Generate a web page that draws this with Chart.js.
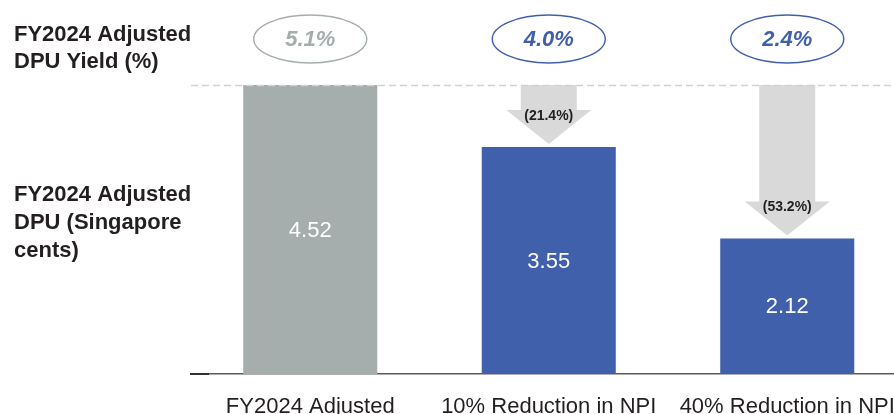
<!DOCTYPE html>
<html>
<head>
<meta charset="utf-8">
<script src="https://cdn.jsdelivr.net/npm/chart.js@4.4.1/dist/chart.umd.min.js"></script>
<style>
  html, body { margin: 0; padding: 0; background: #ffffff; overflow: hidden; }
  #wrap { position: relative; width: 894px; height: 414px; overflow: hidden; }
  canvas { display: block; }
</style>
</head>
<body>
<div id="wrap"><canvas id="c" width="920" height="440"></canvas></div>
<script>
// Scenario categories along the x axis
const categories = ['FY2024 Adjusted', '10% Reduction in NPI', '40% Reduction in NPI'];
// Adjusted DPU per scenario (Singapore cents)
const dpu = [4.52, 3.55, 2.12];
// Adjusted DPU yield per scenario (%)
const dpuYield = [5.1, 4.0, 2.4];
// Change in DPU versus FY2024 adjusted (%)
const dpuChange = [null, -21.4, -53.2];
// Row headings on the left
const yieldHeading = ['FY2024 Adjusted', 'DPU Yield (%)'];
const dpuHeading = ['FY2024 Adjusted', 'DPU (Singapore', 'cents)'];

const FONT = "'Liberation Sans', Arial, Helvetica, sans-serif";
const GREY = '#a5adad';
const BLUE = '#4160ac';
const INK = '#231f20';

Chart.defaults.font.family = FONT;

const overlay = {
  id: 'dpuOverlay',
  afterDatasetsDraw(chart) {
    const { ctx, chartArea, scales: { y } } = chart;
    const bars = chart.getDatasetMeta(0).data;
    const baseY = y.getPixelForValue(dpu[0]);
    ctx.save();

    // value inside each bar
    ctx.fillStyle = '#ffffff';
    ctx.font = `22px ${FONT}`;
    ctx.textAlign = 'center';
    ctx.textBaseline = 'middle';
    bars.forEach((bar, i) => {
      ctx.fillText(dpu[i].toFixed(2), bar.x, (bar.y + bar.base) / 2 + 1);
    });

    // down arrows from the FY2024 level to each scenario bar
    dpuChange.forEach((chg, i) => {
      if (chg == null) return;
      const bar = bars[i];
      const tip = bar.y - 3;
      const headTop = tip - 34;
      const shaftHalf = 28, headHalf = 42.5;
      ctx.fillStyle = '#d9d9d9';
      ctx.beginPath();
      ctx.moveTo(bar.x - shaftHalf, baseY);
      ctx.lineTo(bar.x + shaftHalf, baseY);
      ctx.lineTo(bar.x + shaftHalf, headTop);
      ctx.lineTo(bar.x + headHalf, headTop);
      ctx.lineTo(bar.x, tip);
      ctx.lineTo(bar.x - headHalf, headTop);
      ctx.lineTo(bar.x - shaftHalf, headTop);
      ctx.closePath();
      ctx.fill();
      ctx.fillStyle = INK;
      ctx.font = `bold 14px ${FONT}`;
      ctx.textAlign = 'center';
      ctx.textBaseline = 'middle';
      ctx.fillText(`(${Math.abs(chg).toFixed(1)}%)`, bar.x, headTop + 6);
    });

    // dashed reference line at the FY2024 level
    ctx.strokeStyle = '#d2d2d2';
    ctx.lineWidth = 1.3;
    ctx.setLineDash([7, 4]);
    ctx.beginPath();
    ctx.moveTo(chartArea.left, baseY + 0.5);
    ctx.lineTo(chart.width, baseY + 0.5);
    ctx.stroke();
    ctx.setLineDash([]);

    // short dark stub at the left of the baseline
    ctx.strokeStyle = '#333333';
    ctx.lineWidth = 2;
    ctx.beginPath();
    ctx.moveTo(chartArea.left - 1, chartArea.bottom);
    ctx.lineTo(chartArea.left + 18, chartArea.bottom);
    ctx.stroke();

    // yield ovals above each bar
    bars.forEach((bar, i) => {
      const col = i === 0 ? GREY : BLUE;
      ctx.strokeStyle = col;
      ctx.lineWidth = 1.4;
      ctx.beginPath();
      ctx.ellipse(bar.x, 39, 56.5, 24, 0, 0, Math.PI * 2);
      ctx.stroke();
      ctx.fillStyle = col;
      ctx.font = `italic bold 22px ${FONT}`;
      ctx.textAlign = 'center';
      ctx.textBaseline = 'middle';
      ctx.fillText(`${dpuYield[i].toFixed(1)}%`, bar.x, 40);
    });

    // row headings
    ctx.fillStyle = INK;
    ctx.font = `bold 22px ${FONT}`;
    ctx.textAlign = 'left';
    ctx.textBaseline = 'alphabetic';
    yieldHeading.forEach((t, k) => ctx.fillText(t, 14, 41 + k * 27));
    dpuHeading.forEach((t, k) => ctx.fillText(t, 14, 201 + k * 28));

    ctx.restore();
  }
};

new Chart(document.getElementById('c'), {
  type: 'bar',
  data: {
    labels: categories,
    datasets: [{
      data: dpu,
      backgroundColor: [GREY, BLUE, BLUE],
      borderWidth: 0,
      categoryPercentage: 1,
      barPercentage: 0.562
    }]
  },
  options: {
    responsive: false,
    animation: false,
    events: [],
    layout: { padding: { left: 191, right: 13.5, top: 85, bottom: 0 } },
    plugins: { legend: { display: false }, tooltip: { enabled: false } },
    scales: {
      x: {
        grid: { display: false, drawTicks: false },
        border: { display: true, color: '#5a5a5c', width: 1.5 },
        ticks: { color: INK, font: { size: 22 }, padding: 20, maxRotation: 0, autoSkip: false },
        afterFit(scale) { scale.height = 66; }
      },
      y: {
        display: false,
        min: 0,
        max: dpu[0]
      }
    }
  },
  plugins: [overlay]
});
</script>
</body>
</html>
